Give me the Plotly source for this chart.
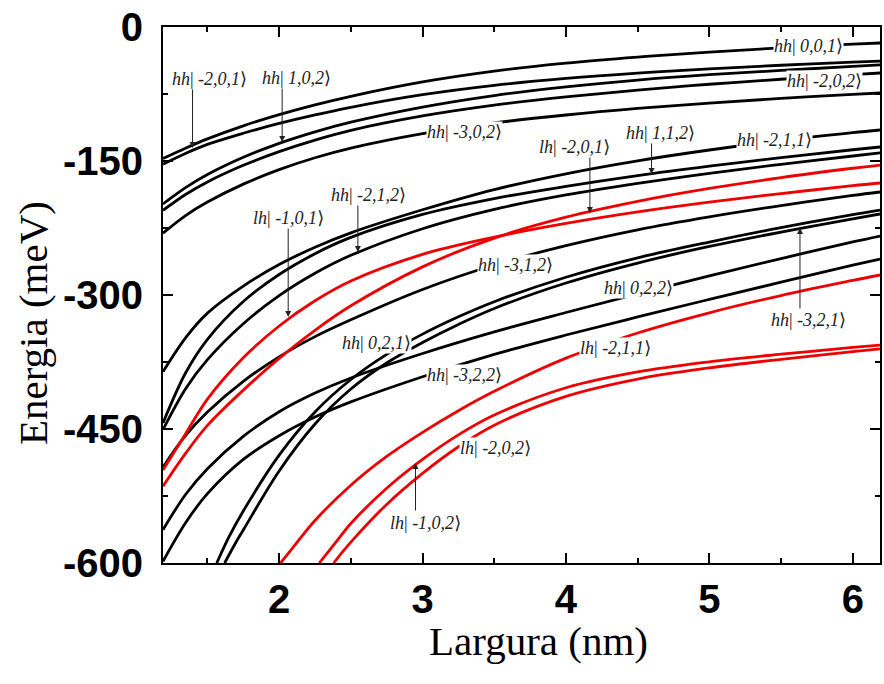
import plotly.graph_objects as go

# Well width grid (nm) shared by the levels that span the whole range
width_grid = [1.19, 1.35, 1.5, 1.75, 2.0, 2.25, 2.5, 3.0, 3.5, 4.0, 4.5, 5.0, 5.5, 6.0, 6.19]

# Heavy-hole levels (meV) on width_grid
hh_001 = [-147.3, -135.4, -125.2, -110.6, -98.1, -87.2, -77.6, -61.5, -49.4, -40.5, -33.7, -28.1, -23.3, -19.2, -17.9]
hh_m201 = [-153.6, -141.3, -131.4, -118.9, -108.0, -98.4, -89.9, -75.8, -65.3, -57.6, -51.6, -46.8, -42.8, -39.3, -38.1]
hh_102 = [-198.1, -179.6, -165.2, -145.9, -130.2, -117.3, -106.5, -89.6, -76.7, -67.1, -59.4, -53.4, -48.6, -44.1, -42.5]
hh_m202 = [-205.2, -187.2, -173.4, -154.8, -139.5, -126.6, -115.7, -99.6, -87.5, -78.3, -70.6, -64.1, -58.5, -53.3, -51.5]
hh_m302 = [-230.8, -210.8, -196.0, -175.9, -159.7, -146.4, -135.6, -119.4, -107.4, -98.5, -91.2, -85.2, -79.9, -75.4, -73.9]
hh_m211 = [-385.9, -347.4, -320.3, -290.0, -265.9, -246.5, -230.4, -204.6, -182.0, -164.3, -149.8, -137.7, -127.2, -118.3, -115.3]
hh_112 = [-443.2, -386.5, -349.6, -307.3, -277.1, -253.7, -235.5, -209.8, -192.1, -178.4, -166.3, -155.8, -146.2, -137.4, -134.3]
hh_m212 = [-450.8, -404.4, -372.4, -332.1, -300.7, -275.7, -255.6, -225.8, -204.1, -188.0, -175.1, -163.8, -153.7, -144.4, -141.0]
hh_m312 = [-492.8, -456.7, -430.9, -396.6, -369.2, -346.6, -327.7, -293.8, -266.4, -244.7, -227.0, -212.5, -199.9, -188.6, -184.7]
hh_022 = [-562.7, -522.8, -494.4, -458.2, -430.7, -409.8, -392.9, -365.5, -341.3, -319.6, -298.7, -278.5, -259.2, -240.6, -234.0]
hh_m322 = [-598.2, -554.4, -522.4, -484.1, -457.5, -436.6, -419.7, -391.5, -366.5, -344.8, -324.6, -304.9, -285.6, -266.6, -259.7]

# Heavy-hole levels that enter from below -600 meV
w_hh_021 = [1.565, 1.65, 1.75, 2.0, 2.25, 2.5, 2.75, 3.0, 3.25, 3.5, 4.0, 4.5, 5.0, 5.5, 6.0, 6.19]
hh_021 = [-600, -570.7, -541.7, -479.2, -430.9, -394.6, -366.4, -343.8, -324.4, -307.5, -280.1, -258.4, -240.7, -224.6, -210.0, -204.9]
w_hh_m321 = [1.62, 1.7, 1.75, 2.0, 2.25, 2.5, 2.75, 3.0, 3.25, 3.5, 4.0, 4.5, 5.0, 5.5, 6.0, 6.19]
hh_m321 = [-600, -576.5, -563.1, -497.0, -444.4, -405.2, -376.1, -353.2, -333.0, -315.1, -286.6, -264.2, -245.7, -229.5, -214.7, -209.3]

# Light-hole levels (meV)
lh_m101 = [-495.9, -454.7, -416.5, -370.2, -334.7, -306.5, -284.3, -254.5, -235.2, -219.9, -207.0, -196.1, -186.5, -177.6, -174.6]
lh_m201 = [-514.1, -476.8, -446.0, -406.5, -371.0, -339.5, -312.1, -268.5, -236.3, -212.9, -195.2, -180.7, -168.6, -158.1, -154.5]
w_lh_m211 = [2.01, 2.1, 2.25, 2.5, 2.75, 3.0, 3.25, 3.5, 4.0, 4.5, 5.0, 5.5, 6.0, 6.19]
lh_m211 = [-600, -582.0, -552.4, -512.9, -480.7, -453.7, -429.5, -407.8, -370.7, -342.5, -319.9, -300.6, -283.7, -277.6]
w_lh_m102 = [2.28, 2.4, 2.5, 2.75, 3.0, 3.25, 3.5, 4.0, 4.5, 5.0, 5.5, 6.0, 6.19]
lh_m102 = [-600, -575.9, -555.8, -516.3, -484.0, -456.6, -434.4, -403.8, -386.1, -374.8, -366.3, -358.7, -356.0]
w_lh_m202 = [2.38, 2.5, 2.75, 3.0, 3.25, 3.5, 4.0, 4.5, 5.0, 5.5, 6.0, 6.19]
lh_m202 = [-600, -576.7, -534.4, -499.7, -469.9, -445.7, -413.5, -394.1, -381.6, -372.0, -363.5, -360.4]

# Axis ticks
x_ticks = [2, 3, 4, 5, 6]
x_tick_text = ["2", "3", "4", "5", "6"]
x_minor = [1.5, 2.5, 3.5, 4.5, 5.5]
y_ticks = [0, -150, -300, -450, -600]
y_tick_text = ["0", "-150", "-300", "-450", "-600"]
y_minor = [-75, -225, -375, -525]

BLACK = "#000000"
RED = "#ee0000"

levels = [
    (width_grid, hh_001, BLACK), (width_grid, hh_m201, BLACK),
    (width_grid, hh_102, BLACK), (width_grid, hh_m202, BLACK),
    (width_grid, hh_m302, BLACK), (width_grid, hh_m211, BLACK),
    (width_grid, hh_112, BLACK), (width_grid, hh_m212, BLACK),
    (width_grid, hh_m312, BLACK), (width_grid, hh_022, BLACK),
    (width_grid, hh_m322, BLACK), (w_hh_021, hh_021, BLACK),
    (w_hh_m321, hh_m321, BLACK),
    (width_grid, lh_m101, RED), (width_grid, lh_m201, RED),
    (w_lh_m211, lh_m211, RED), (w_lh_m102, lh_m102, RED),
    (w_lh_m202, lh_m202, RED),
]

fig = go.Figure()
for xs, ys, col in levels:
    fig.add_trace(go.Scatter(
        x=xs, y=ys, mode="lines",
        line=dict(color=col, width=2.8, shape="spline", smoothing=1.0),
        showlegend=False, hoverinfo="skip"))

LABEL_FONT = dict(family="Liberation Serif, DejaVu Serif, serif", size=18, color="#222222")


def ket(band, q):
    return f"<i>{band}</i>|<i> {q}</i>\u27e9"


# (band, quantum numbers, x, y) for text placed on or near the levels
labels = [
    ("hh", "-2,0,1", 1.514, -58.2), ("hh", "1,0,2", 2.118, -57.1),
    ("hh", "-3,0,2", 3.292, -117.5), ("hh", "0,0,1", 5.694, -21.3),
    ("hh", "-2,0,2", 5.806, -60.4), ("lh", "-2,0,1", 4.063, -134.3),
    ("hh", "1,1,2", 4.660, -118.7), ("hh", "-2,1,1", 5.451, -126.5),
    ("hh", "-2,1,2", 2.625, -188.1), ("lh", "-1,0,1", 2.063, -213.8),
    ("hh", "-3,1,2", 3.646, -266.4), ("hh", "0,2,1", 2.681, -353.7),
    ("hh", "0,2,2", 4.507, -292.2), ("hh", "-3,2,2", 3.292, -389.6),
    ("lh", "-2,1,1", 4.347, -359.3), ("hh", "-3,2,1", 5.694, -328.0),
    ("lh", "-2,0,2", 3.507, -471.3), ("lh", "-1,0,2", 3.021, -555.2),
]
for band, q, lx, ly in labels:
    fig.add_annotation(x=lx, y=ly, text=ket(band, q), showarrow=False,
                       font=LABEL_FONT, bgcolor="white", borderpad=0)

# Pointer arrows: (x, tail y, tip y)
pointers = [
    (1.396, -68.3, -135.4), (2.021, -67.2, -128.7), (4.167, -144.4, -208.2),
    (4.597, -128.7, -164.6), (2.549, -198.1, -251.9), (2.063, -223.9, -324.6),
    (5.632, -316.8, -225.0), (2.951, -542.9, -488.1),
]
for px_, tail, tip in pointers:
    fig.add_annotation(x=px_, y=tip, ax=px_, ay=tail, axref="x", ayref="y",
                       text="", showarrow=True, arrowhead=2, arrowsize=1.2,
                       arrowwidth=1, arrowcolor="#222222")

TITLE_FONT = dict(family="Liberation Serif, serif", size=41, color="black")
fig.add_annotation(xref="paper", yref="paper", x=0.524, y=-0.146,
                   text="Largura (nm)", showarrow=False, font=TITLE_FONT,
                   xanchor="center", yanchor="middle")
fig.add_annotation(xref="paper", yref="paper", x=-0.181, y=0.448,
                   text="Energia (meV)", showarrow=False, font=TITLE_FONT,
                   textangle=-90, xanchor="center", yanchor="middle")

axis_common = dict(
    showline=True, linecolor="black", linewidth=2, mirror="allticks",
    ticks="inside", ticklen=10, tickwidth=2, tickcolor="black",
    showgrid=False, zeroline=False,
    tickfont=dict(family="Liberation Sans, Arial, sans-serif", size=40,
                  color="black", weight="bold"),
)

fig.update_layout(
    width=884, height=684,
    margin=dict(l=163, r=2, t=27, b=121),
    paper_bgcolor="white", plot_bgcolor="white",
    xaxis=dict(
        range=[1.19, 6.19], tickvals=x_ticks, ticktext=x_tick_text,
        minor=dict(tickvals=x_minor, ticks="inside", ticklen=5, tickwidth=2,
                   tickcolor="black"),
        ticklabelstandoff=0,
        **axis_common),
    yaxis=dict(
        range=[-600, 0], tickvals=y_ticks, ticktext=y_tick_text,
        minor=dict(tickvals=y_minor, ticks="inside", ticklen=5, tickwidth=2,
                   tickcolor="black"),
        ticklabelstandoff=10,
        **axis_common),
)

fig.write_html("out.html")
